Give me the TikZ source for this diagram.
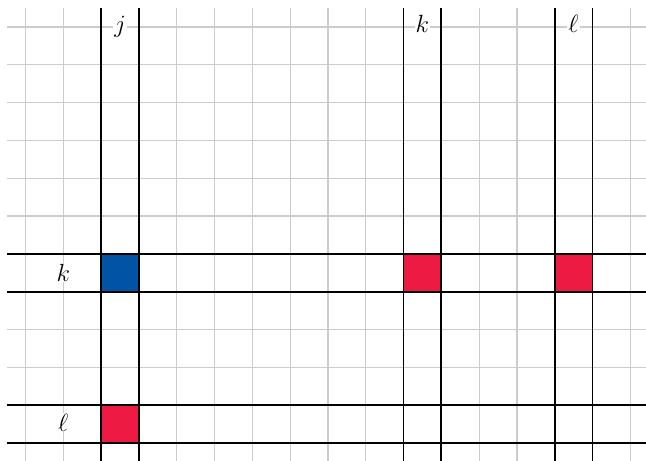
\documentclass[tikz,border=0pt]{standalone}
\definecolor{cellblue}{RGB}{0,83,165}
\definecolor{cellred}{RGB}{237,26,67}
\definecolor{gridgrey}{RGB}{204,204,204}
\begin{document}
\begin{tikzpicture}[x=1pt,y=-1pt,
  gridline/.style={draw=gridgrey, line width=1.2pt},
  mainline/.style={draw=black, line width=1.8pt},
  lbl/.style={fill=white, inner sep=1pt, font=\Huge, anchor=base}]
\useasboundingbox (0,0) rectangle (646,461);
% grey grid
\foreach \i in {0,...,16}
  \draw[gridline] ({25.5+37.8*\i},8) -- ({25.5+37.8*\i},461);
\foreach \j in {0,...,11}
  \draw[gridline] (7,{27+37.8*\j}) -- (646,{27+37.8*\j});
% coloured cells
\fill[cellblue] (101.1,253.8) rectangle (138.9,291.6);
\fill[cellred] (403.5,253.8) rectangle (441.3,291.6);
\fill[cellred] (554.7,253.8) rectangle (592.5,291.6);
\fill[cellred] (101.1,405) rectangle (138.9,442.8);
% black lines
\foreach \x in {101.1,138.9,403.5,441.3,554.7,592.5}
  \draw[mainline] (\x,8) -- (\x,461);
\foreach \y in {253.8,291.6,405,442.8}
  \draw[mainline] (7,\y) -- (646,\y);
% labels
\node[lbl] (colj) at (120,32) {$j$};
\node[lbl] (colk) at (422.4,32) {$k$};
\node[lbl] (coll) at (573.6,32) {$\ell$};
\node[lbl] (rowk) at (63.3,281) {$k$};
\node[lbl] (rowl) at (63.3,431) {$\ell$};
\end{tikzpicture}
\end{document}
